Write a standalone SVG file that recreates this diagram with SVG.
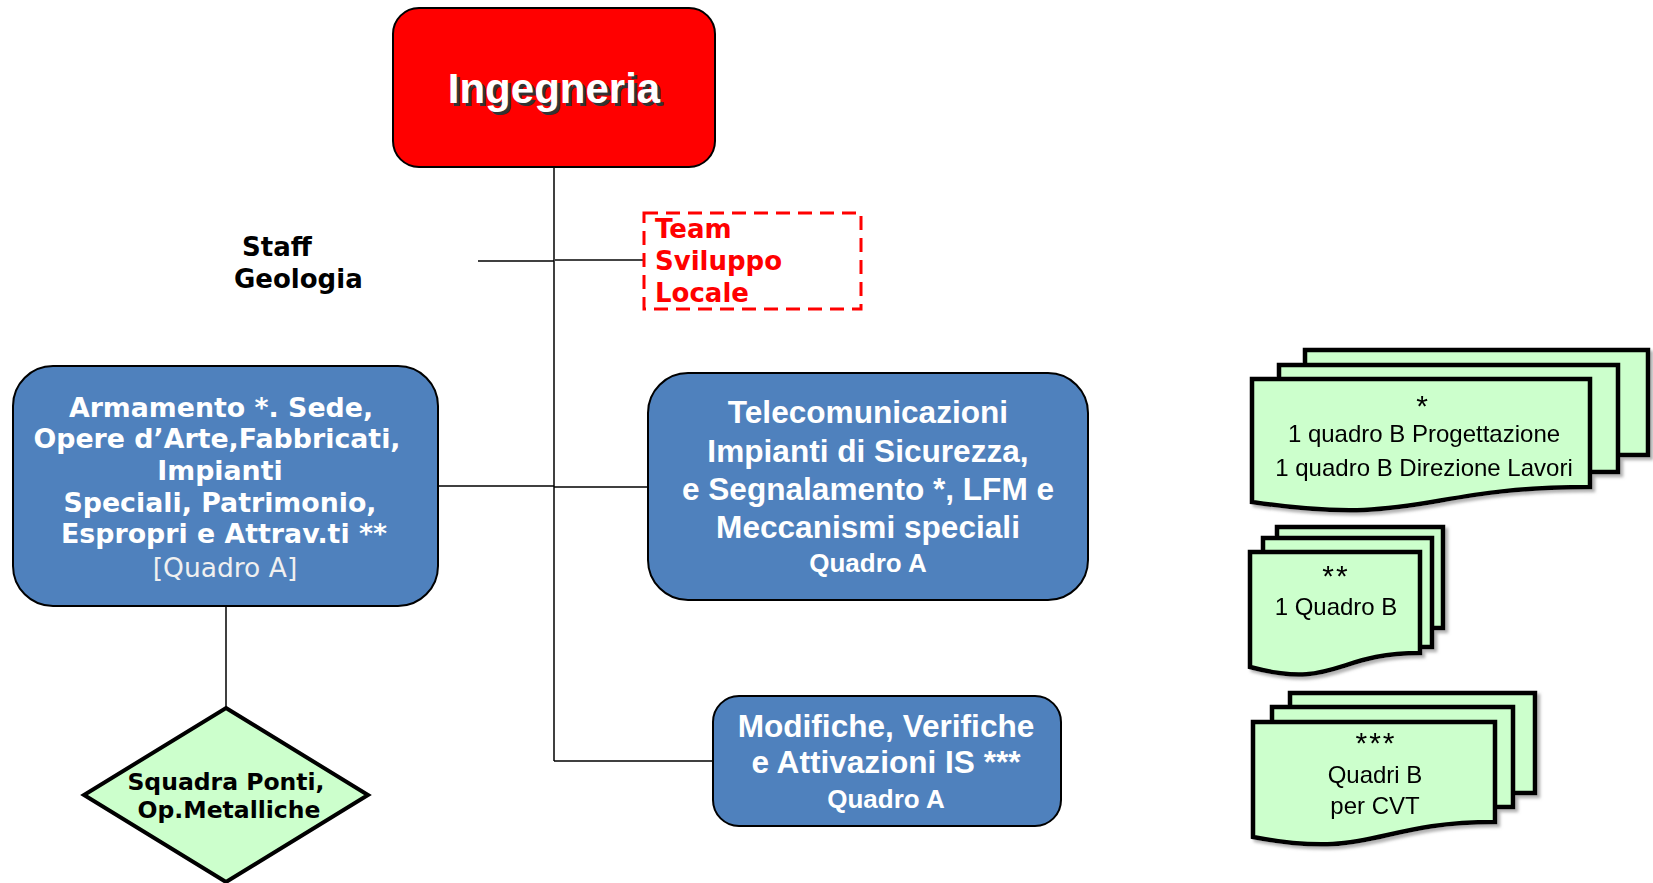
<svg xmlns="http://www.w3.org/2000/svg" width="1653" height="883" viewBox="0 0 1653 883">
<style>
.conn{stroke:#000;stroke-width:1.5;fill:none}
.blue{fill:#4F81BD;stroke:#000;stroke-width:2}
.vb{font-family:"DejaVu Sans",Verdana,sans-serif;font-weight:bold}
.ab{font-family:"Liberation Sans",Arial,sans-serif;font-weight:bold}
.wt{fill:#fff;text-anchor:middle}
.doc{fill:#CCFFCC;stroke:#000;stroke-width:4.5;stroke-linejoin:miter}
.dt{font-family:"Liberation Sans",Arial,sans-serif;font-size:24px;fill:#000;text-anchor:middle}
.ast{font-family:"Liberation Sans",Arial,sans-serif;font-size:30px;fill:#000;text-anchor:middle;letter-spacing:2px}
</style>
<defs>
<filter id="sh" x="-10%" y="-10%" width="130%" height="130%">
<feDropShadow dx="3" dy="3" stdDeviation="1.5" flood-color="#808080" flood-opacity="0.6"/>
</filter>
</defs>
<rect width="1653" height="883" fill="#fff"/>
<g id="connectors">
<line class="conn" x1="554" y1="167" x2="554" y2="761"/>
<line class="conn" x1="478" y1="261" x2="554" y2="261"/>
<line x1="554" y1="260" x2="644" y2="260" stroke="#444" stroke-width="2"/>
<line class="conn" x1="438" y1="486" x2="554" y2="486"/>
<line class="conn" x1="554" y1="487" x2="648" y2="487"/>
<line class="conn" x1="554" y1="761" x2="713" y2="761"/>
<line class="conn" x1="226" y1="606" x2="226" y2="708"/>
</g>
<g id="ingegneria">
<rect x="393" y="8" width="322" height="159" rx="26" fill="#FF0000" stroke="#000" stroke-width="2"/>
<text x="557" y="106" class="ab" font-size="42" fill="#333" text-anchor="middle">Ingegneria</text>
<text x="554" y="103" class="ab" font-size="42" fill="#fff" text-anchor="middle">Ingegneria</text>
</g>
<g id="staff-geologia">
<text class="vb" font-size="26" fill="#000"><tspan x="242" y="256">Staff</tspan><tspan x="234" y="288">Geologia</tspan></text>
</g>
<g id="team-sviluppo">
<rect x="644" y="213" width="217" height="96" fill="none" stroke="#FF0000" stroke-width="3" stroke-dasharray="14 8"/>
<text class="vb" font-size="26" fill="#FF0000"><tspan x="655" y="238">Team</tspan><tspan x="655" y="270">Sviluppo</tspan><tspan x="655" y="302">Locale</tspan></text>
</g>
<g id="armamento">
<rect class="blue" x="13" y="366" width="425" height="240" rx="40"/>
<text class="vb wt" font-size="26.8"><tspan x="221" y="417">Armamento *. Sede,</tspan><tspan x="217" y="448">Opere d’Arte,Fabbricati,</tspan><tspan x="220" y="480">Impianti</tspan><tspan x="220" y="512">Speciali, Patrimonio,</tspan><tspan x="224" y="543">Espropri e Attrav.ti **</tspan></text>
<text x="225" y="577" font-family="DejaVu Sans,Verdana,sans-serif" font-size="26.5" fill="#F0F0F0" text-anchor="middle">[Quadro A]</text>
</g>
<g id="squadra-ponti">
<polygon points="226,708 368,795 226,882 84,795" fill="#CCFFCC" stroke="#000" stroke-width="4"/>
<text class="vb" font-size="23.5" fill="#000" text-anchor="middle"><tspan x="226" y="790">Squadra Ponti,</tspan><tspan x="229" y="818">Op.Metalliche</tspan></text>
</g>
<g id="telecomunicazioni">
<rect class="blue" x="648" y="373" width="440" height="227" rx="40"/>
<text class="ab wt" font-size="31.6"><tspan x="868" y="423">Telecomunicazioni</tspan><tspan x="868" y="462">Impianti di Sicurezza,</tspan><tspan x="868" y="500">e Segnalamento *, LFM e</tspan><tspan x="868" y="538">Meccanismi speciali</tspan></text>
<text x="868" y="572" class="ab wt" font-size="26">Quadro A</text>
</g>
<g id="modifiche">
<rect class="blue" x="713" y="696" width="348" height="130" rx="26"/>
<text class="ab wt" font-size="31.6"><tspan x="886" y="737">Modifiche, Verifiche</tspan><tspan x="886" y="773">e Attivazioni IS ***</tspan></text>
<text x="886" y="808" class="ab wt" font-size="26">Quadro A</text>
</g>
<g id="doc-quadro-b-progettazione" filter="url(#sh)">
<rect class="doc" x="1305" y="350" width="343" height="105"/>
<rect class="doc" x="1279" y="365" width="339" height="107"/>
<path class="doc" d="M1252,379 H1590 V487 C1421,487 1421,527 1252,502 Z"/>
<text class="ast" x="1423" y="416">*</text>
<text class="dt"><tspan x="1424" y="442">1 quadro B Progettazione</tspan><tspan x="1424" y="476">1 quadro B Direzione Lavori</tspan></text>
</g>
<g id="doc-quadro-b" filter="url(#sh)">
<rect class="doc" x="1277" y="527" width="166" height="101"/>
<rect class="doc" x="1263" y="538" width="169" height="109"/>
<path class="doc" d="M1250,552 H1420 V653 C1335,653 1335,690 1250,667 Z"/>
<text class="ast" x="1336" y="586">**</text>
<text class="dt" x="1336" y="615">1 Quadro B</text>
</g>
<g id="doc-quadri-b-cvt" filter="url(#sh)">
<rect class="doc" x="1290" y="693" width="245" height="100"/>
<rect class="doc" x="1272" y="707" width="241" height="100"/>
<path class="doc" d="M1253,722 H1495 V822 C1374,822 1374,860 1253,837 Z"/>
<text class="ast" x="1376" y="753">***</text>
<text class="dt"><tspan x="1375" y="783">Quadri B</tspan><tspan x="1375" y="814">per CVT</tspan></text>
</g>
</svg>
